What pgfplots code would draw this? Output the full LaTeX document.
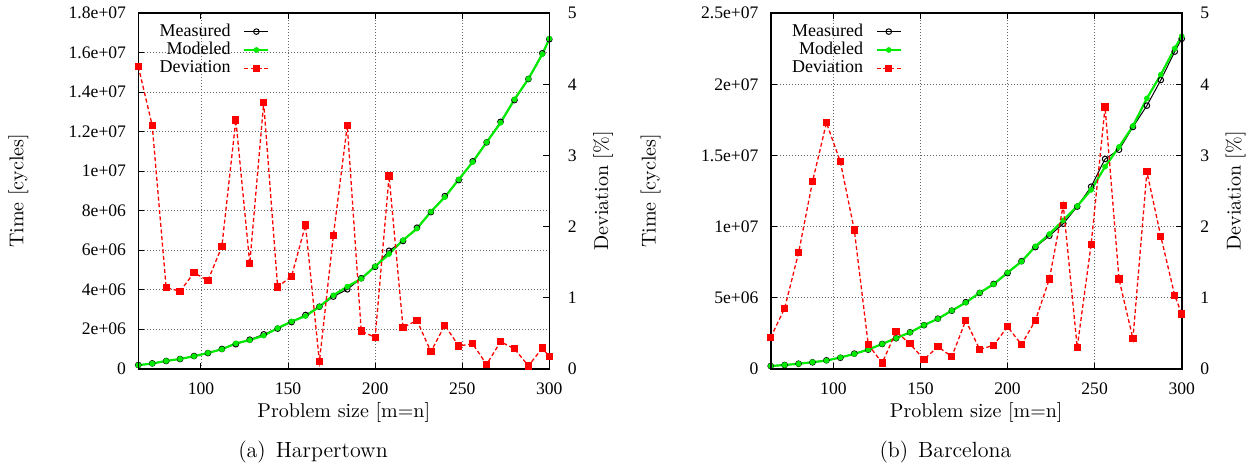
\documentclass[border=0pt]{standalone}
\usepackage{fontspec}
\usepackage{pgfplots}
\usepackage{pgfplotstable}
\pgfplotsset{compat=1.18}
\newfontfamily\gpfont{Liberation Serif}
\definecolor{gpgreen}{RGB}{0,235,0}

\pgfplotstableread{
x meas model dev
64 187000 179000 4.25
72 270000 261000 3.42
80 390000 394000 1.14
88 490000 495000 1.09
96 640000 631000 1.35
104 790000 800000 1.24
112 1000000 983000 1.72
120 1240000 1283000 3.50
128 1470000 1448000 1.48
136 1740000 1675000 3.74
144 2030000 2053000 1.15
152 2360000 2391000 1.30
160 2720000 2665000 2.02
168 3140000 3143000 0.10
176 3650000 3718000 1.87
184 4020000 4157000 3.42
192 4580000 4556000 0.53
200 5160000 5183000 0.44
208 5970000 5808000 2.71
216 6470000 6508000 0.58
224 7140000 7091000 0.68
232 7930000 7949000 0.24
240 8740000 8687000 0.61
248 9550000 9581000 0.32
256 10500000 10463000 0.35
264 11460000 11467000 0.06
272 12500000 12453000 0.38
280 13600000 13638000 0.28
288 14670000 14676000 0.04
296 15970000 15924000 0.29
300 16680000 16708000 0.17
}\harper

\pgfplotstableread{
x meas model dev
64 190000 191000 0.44
72 260000 262000 0.85
80 350000 344000 1.63
88 450000 462000 2.63
96 590000 570000 3.46
104 770000 792000 2.91
112 1060000 1039000 1.95
120 1340000 1345000 0.34
128 1740000 1741000 0.08
136 2140000 2151000 0.52
144 2560000 2551000 0.35
152 3060000 3064000 0.13
160 3520000 3509000 0.31
168 4080000 4087000 0.17
176 4680000 4648000 0.68
184 5330000 5344000 0.27
192 5960000 5940000 0.33
200 6720000 6760000 0.59
208 7560000 7534000 0.34
216 8550000 8608000 0.68
224 9350000 9468000 1.26
232 10200000 10435000 2.30
240 11400000 11434000 0.30
248 12800000 12576000 1.75
256 14750000 14207000 3.68
264 15400000 15594000 1.26
272 17000000 17071000 0.42
280 18500000 19012000 2.77
288 20300000 20678000 1.86
296 22300000 22530000 1.03
300 23200000 23379000 0.77
}\barca

\pgfplotsset{
  gpbase/.style={
    scale only axis, width=205.5pt, height=177.75pt,
    anchor=south west,
    xmin=64, xmax=300,
    tick align=inside, major tick length=3pt,
    axis line style={line width=0.8pt},
    every tick/.style={black, line width=0.5pt},
    tick label style={font=\gpfont\fontsize{8.8}{10}\selectfont},
    label style={font=\fontsize{10}{12}\selectfont},
    scaled y ticks=false,
  },
  gptime/.style={
    gpbase,
    xtick={100,150,200,250,300}, xticklabels={100,150,200,250,300},
    xtick pos=both,
    ytick pos=left,
    grid=major,
    grid style={line width=0.4pt, color=black!60, dash pattern=on 0.5pt off 1pt},
    xticklabel style={yshift=-3.6pt},
    yticklabel style={xshift=-2.6pt},
    xlabel={Problem size [m=n]}, ylabel={Time [cycles]},
    xlabel style={at={(axis description cs:0.5,-0.122)}, anchor=center},
    ylabel style={at={(axis description cs:-0.292,0.5)}, anchor=center},
  },
  gpdev/.style={
    gpbase,
    xtick=\empty,
    ymin=0, ymax=5, ytick={0,1,2,3,4,5}, yticklabels={0,1,2,3,4,5},
    ytick pos=right, yticklabel pos=right,
    yticklabel style={xshift=5.8pt},
    ylabel={Deviation [\%]},
    ylabel style={at={(axis description cs:1.1309,0.5)}, anchor=center},
    legend cell align=right,
    legend plot pos=right,
    legend image code/.code={\draw[mark repeat=2,mark phase=2,##1] plot coordinates {(0pt,0pt) (6pt,0pt) (12pt,0pt)};},
    legend style={at={(axis description cs:0.0511,0.9733)}, anchor=north west,
      draw=none, fill=none, inner sep=0pt,
      font=\gpfont\fontsize{9}{10}\selectfont,
      nodes={inner sep=0pt, text height=6.5pt, text depth=2pt},
      row sep=0.7pt, column sep=6.3pt},
  },
  measstyle/.style={black, line width=0.5pt, mark=o, mark size=1.4pt, mark options={solid, line width=0.5pt}},
  modstyle/.style={gpgreen, line width=1.1pt, mark=*, mark size=1.25pt, mark options={solid, fill=gpgreen, draw=gpgreen, line width=0.3pt}},
  devstyle/.style={red, line width=0.65pt, dash pattern=on 2pt off 1.3pt, mark=square*, mark size=1.5pt, mark options={solid, fill=red}},
}

\begin{document}
\begin{tikzpicture}
\useasboundingbox (0,0) rectangle (628.5pt,234pt);

% ---- (a) Harpertown ----
\begin{axis}[gptime, at={(69.15pt,49.65pt)},
  ymin=0, ymax=1.8e7,
  ytick={0,2e6,4e6,6e6,8e6,1e7,1.2e7,1.4e7,1.6e7,1.8e7},
  yticklabels={0,2e+06,4e+06,6e+06,8e+06,1e+07,1.2e+07,1.4e+07,1.6e+07,1.8e+07}]
\addplot[measstyle] table[x=x,y=meas] {\harper};
\addplot[modstyle] table[x=x,y=model] {\harper};
\end{axis}
\begin{axis}[gpdev, at={(69.15pt,49.65pt)}]
\addlegendimage{measstyle}
\addlegendentry{Measured}
\addlegendimage{modstyle}
\addlegendentry{Modeled}
\addplot[devstyle] table[x=x,y=dev] {\harper};
\addlegendentry{Deviation}
\end{axis}

% ---- (b) Barcelona ----
\begin{axis}[gptime, at={(385.35pt,49.65pt)},
  ymin=0, ymax=2.5e7,
  ytick={0,5e6,1e7,1.5e7,2e7,2.5e7},
  yticklabels={0,5e+06,1e+07,1.5e+07,2e+07,2.5e+07}]
\addplot[measstyle] table[x=x,y=meas] {\barca};
\addplot[modstyle] table[x=x,y=model] {\barca};
\end{axis}
\begin{axis}[gpdev, at={(385.35pt,49.65pt)}]
\addlegendimage{measstyle}
\addlegendentry{Measured}
\addlegendimage{modstyle}
\addlegendentry{Modeled}
\addplot[devstyle] table[x=x,y=dev] {\barca};
\addlegendentry{Deviation}
\end{axis}

\node[font=\fontsize{11}{13}\selectfont, inner sep=0pt] at (156.5pt,8pt) {(a)\hspace{5pt}Harpertown};
\node[font=\fontsize{11}{13}\selectfont, inner sep=0pt] at (472.7pt,8pt) {(b)\hspace{5pt}Barcelona};
\end{tikzpicture}
\end{document}
